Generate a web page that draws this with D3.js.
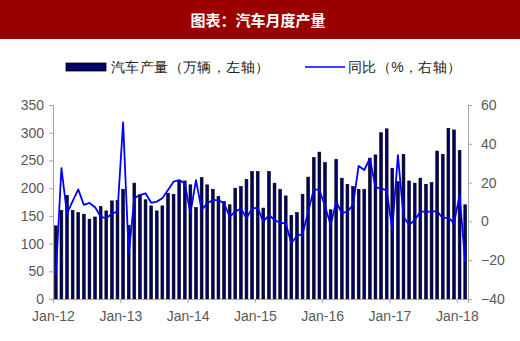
<!DOCTYPE html>
<html>
<head>
<meta charset="utf-8">
<script src="https://cdn.jsdelivr.net/npm/d3@7/dist/d3.min.js"></script>
<style>
    body { margin: 0; background: #fff; }
    svg text { font-family: "Liberation Sans", Arial, sans-serif; }
</style>
</head>
<body>
<svg id="chart" width="520" height="341"></svg>
<script>
// years shown on the x axis, each month is one bar
var years = ['12', '13', '14', '15', '16', '17', '18'];
var monthNames = ['Jan', 'Feb', 'Mar', 'Apr', 'May', 'Jun', 'Jul', 'Aug', 'Sep', 'Oct', 'Nov', 'Dec'];

// monthly output, 10k vehicles (left axis), Jan-12 .. Feb-18
var output = [
    132, 160, 187, 160, 156, 153, 144, 148, 167, 159, 177, 178,
    198, 133, 209, 188, 179, 168, 159, 168, 191, 189, 213, 213,
    206, 165, 219, 206, 198, 185, 176, 170, 200, 203, 216, 230,
    230, 164, 230, 209, 198, 186, 151, 156, 189, 220, 255, 265,
    246, 161, 252, 218, 207, 203, 198, 198, 254, 260, 300, 307,
    236, 212, 261, 213, 209, 218, 207, 210, 267, 261, 308, 305,
    268, 170
];

// year on year change, % (right axis)
var yoy = [
    -28, 27.5, 4, 10.5, 16.5, 8.5, 9.5, 7.3, 2.5, 1.6, 4, 5,
    51, -17, 12, 13.6, 14.5, 9.6, 10.2, 11.9, 16.2, 20.5, 21.3, 19.6,
    4.2, 21.3, 5.9, 9.3, 11, 11, 9.3, 2.4, 5, 6.7, 1.6, 6.7,
    7, -0.1, 3.3, 0.7, -0.7, -1, -11.3, -7.5, -6.5, 5, 16.5, 16.2,
    7.9, -1.9, 10.2, 4.2, 5, 8.5, 28.6, 26.5, 32.5, 17.5, 17, 16,
    -4.4, 34.2, 2.4, -1.9, 0.7, 5, 5, 5, 5.3, 1.6, 2.1, -1,
    13.6, -20.8
];

var leftTicks = [0, 50, 100, 150, 200, 250, 300, 350];
var rightTicks = [-40, -20, 0, 20, 40, 60];

// build the month keys, e.g. Jan-12
var months = [];
years.forEach(function (y) {
    monthNames.forEach(function (m) {
        if (months.length < output.length) months.push(m + '-' + y);
    });
});
var tickLabels = years.map(function (y) { return 'Jan-' + y; });

var svg = d3.select('#chart');
var axisGrey = '#a6a6a6';
var labelGrey = '#595959';

// title band
svg.append('rect').attr('x', 0).attr('y', 0).attr('width', 520).attr('height', 39).attr('fill', '#9a0000');
svg.append('text')
    .attr('x', 258).attr('y', 26)
    .attr('text-anchor', 'middle')
    .style('font-family', '"Noto Sans CJK SC", sans-serif')
    .style('font-size', '15px')
    .style('font-weight', 'bold')
    .attr('fill', '#fff')
    .text('图表：汽车月度产量');

// scales
var x = d3.scaleBand().domain(months).range([53, 468]).paddingInner(0.5).paddingOuter(0.25);
var xEdge = d3.scaleBand().domain(months).range([53, 468]);
var yLeft = d3.scaleLinear().domain([0, 350]).range([299, 105]);
var yRight = d3.scaleLinear().domain([-40, 60]).range([299, 105]);

// bars
svg.append('g').selectAll('rect')
    .data(output)
    .enter().append('rect')
    .attr('x', function (d, i) { return x(months[i]); })
    .attr('y', function (d) { return yLeft(d); })
    .attr('width', x.bandwidth())
    .attr('height', function (d) { return yLeft(0) - yLeft(d); })
    .attr('fill', '#000066')
    .attr('stroke', '#000')
    .attr('stroke-width', 0.6);

// yoy line, straight segments
var line = d3.line()
    .x(function (d, i) { return xEdge(months[i]) + xEdge.bandwidth() / 2; })
    .y(function (d) { return yRight(d); });

svg.append('path')
    .datum(yoy)
    .attr('d', line)
    .attr('fill', 'none')
    .attr('stroke', '#0000ff')
    .attr('stroke-width', 1.8)
    .attr('stroke-linejoin', 'round');

// left axis
var leftAxis = svg.append('g')
    .attr('transform', 'translate(53,0)')
    .call(d3.axisLeft(yLeft).tickValues(leftTicks).tickSize(4).tickPadding(5));

// right axis
var rightAxis = svg.append('g')
    .attr('transform', 'translate(468,0)')
    .call(d3.axisRight(yRight).tickValues(rightTicks).tickSize(4).tickPadding(9));

// x axis, ticks on the january edges
var xAxis = svg.append('g')
    .attr('transform', 'translate(0,299)')
    .call(d3.axisBottom(xEdge)
        .tickValues(tickLabels)
        .tickSize(4)
        .tickPadding(8));
xAxis.selectAll('.tick').attr('transform', function (d) {
    return 'translate(' + (xEdge(d) + 0.5) + ',0)';
});

[leftAxis, rightAxis, xAxis].forEach(function (a) {
    a.select('.domain').attr('stroke', axisGrey);
    a.selectAll('.tick line').attr('stroke', axisGrey);
    a.selectAll('.tick text')
        .attr('fill', labelGrey)
        .style('font-size', '14px')
        .style('font-family', '"Liberation Sans", Arial, sans-serif');
});

// legend
var legend = svg.append('g')
    .style('font-family', '"Noto Sans CJK SC", sans-serif')
    .style('font-size', '14px')
    .style('letter-spacing', '0.4px');
legend.append('rect')
    .attr('x', 66).attr('y', 63).attr('width', 40).attr('height', 8)
    .attr('fill', '#000066').attr('stroke', '#000').attr('stroke-width', 0.8);
legend.append('text').attr('x', 111).attr('y', 72).attr('fill', '#222').text('汽车产量（万辆，左轴）');
legend.append('line')
    .attr('x1', 305).attr('x2', 345).attr('y1', 67).attr('y2', 67)
    .attr('stroke', '#0000ff').attr('stroke-width', 1.5);
legend.append('text').attr('x', 348).attr('y', 72).attr('fill', '#222').text('同比（%，右轴）');
</script>
</body>
</html>
